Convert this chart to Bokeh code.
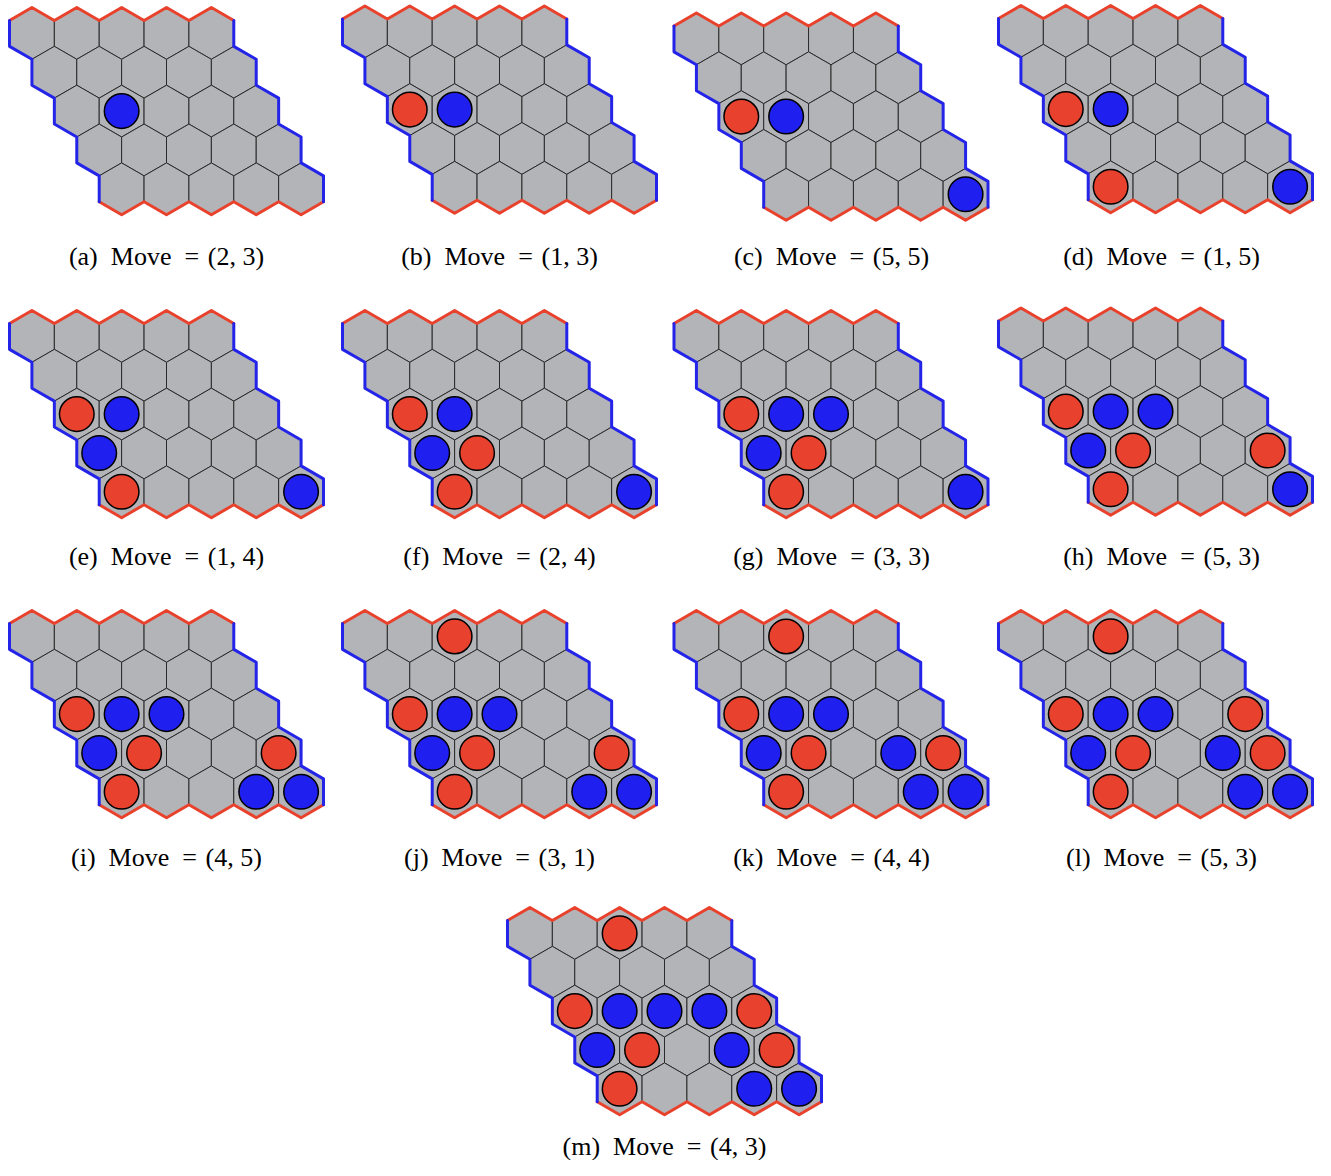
import math
from bokeh.plotting import figure
from bokeh.models import Range1d
from bokeh.core.properties import value
from bokeh.embed import file_html
from bokeh.resources import INLINE

# ---- data ----
BOARD_N = 5
move_cols = [2, 1, 5, 1, 1, 2, 3, 5, 4, 3, 4, 5, 4]
move_rows = [3, 3, 5, 5, 4, 4, 3, 4, 5, 1, 4, 3, 3]
move_players = ["blue", "red", "blue", "red", "blue", "red", "blue",
                "red", "blue", "red", "blue", "red", "blue"]
panel_letters = ["a", "b", "c", "d", "e", "f", "g", "h", "i", "j", "k", "l", "m"]
caption_moves = ["(2, 3)", "(1, 3)", "(5, 5)", "(1, 5)", "(1, 4)", "(2, 4)", "(3, 3)",
                 "(5, 3)", "(4, 5)", "(3, 1)", "(4, 4)", "(5, 3)", "(4, 3)"]

# ---- layout (pixels) ----
col_centers = [166.0, 499.0, 830.5, 1155.0]
cap_centers = [166.0, 499.0, 831.0, 1161.0]
board_tops = [7.0, 5.5, 12.5, 5.0, 310.0, 310.0, 310.0, 307.5,
              610.0, 610.0, 610.0, 610.0, 907.0]
board_cx = [col_centers[i % 4] for i in range(12)] + [664.0]
caption_cx = [cap_centers[i % 4] for i in range(12)] + [664.0]
caption_base = [256.0] * 4 + [556.0] * 4 + [857.0] * 4 + [1146.0]

R = 25.9
W = R * math.sqrt(3)
STONE_R = 17.3

GRAY = "#B3B4B8"
RED = "#E8412E"
BLUE = "#1F1FF0"
EDGE_RED = "#E8412C"
EDGE_BLUE = "#2424E8"

W_PX, H_PX = 1315, 1160
p = figure(width=W_PX, height=H_PX, output_backend="svg", toolbar_location=None,
           x_range=Range1d(0, W_PX), y_range=Range1d(H_PX, 0),
           min_border=0, outline_line_color=None)
p.axis.visible = False
p.xgrid.visible = False
p.ygrid.visible = False
p.background_fill_color = "white"


def hex_center(left, top, c, r):
    x = left + W / 2 + (c - 1) * W + (r - 1) * W / 2
    y = top + R + (r - 1) * 1.5 * R
    return x, y


def hex_vertices(x, y):
    # pointy-top, clockwise from top (screen coords, y down)
    return ([x, x + W / 2, x + W / 2, x, x - W / 2, x - W / 2],
            [y - R, y - R / 2, y + R / 2, y + R, y + R / 2, y - R / 2])


hx, hy = [], []
red_xs, red_ys, blue_xs, blue_ys = [], [], [], []
st_x, st_y, st_c = [], [], []
cap_x, cap_y, cap_t = [], [], []

for k in range(13):
    left = board_cx[k] - 3.5 * W
    top = board_tops[k]
    for r in range(1, BOARD_N + 1):
        for c in range(1, BOARD_N + 1):
            x, y = hex_center(left, top, c, r)
            vx, vy = hex_vertices(x, y)
            hx.append(vx)
            hy.append(vy)
    # top edge (red)
    ex, ey = [], []
    for c in range(1, BOARD_N + 1):
        x, y = hex_center(left, top, c, 1)
        vx, vy = hex_vertices(x, y)
        if c == 1:
            ex.append(vx[5]); ey.append(vy[5])
        ex += [vx[0], vx[1]]; ey += [vy[0], vy[1]]
    red_xs.append(ex); red_ys.append(ey)
    # bottom edge (red)
    ex, ey = [], []
    for c in range(1, BOARD_N + 1):
        x, y = hex_center(left, top, c, BOARD_N)
        vx, vy = hex_vertices(x, y)
        if c == 1:
            ex.append(vx[4]); ey.append(vy[4])
        ex += [vx[3], vx[2]]; ey += [vy[3], vy[2]]
    red_xs.append(ex); red_ys.append(ey)
    # left edge (blue)
    ex, ey = [], []
    for r in range(1, BOARD_N + 1):
        x, y = hex_center(left, top, 1, r)
        vx, vy = hex_vertices(x, y)
        ex += [vx[5], vx[4]]; ey += [vy[5], vy[4]]
    blue_xs.append(ex); blue_ys.append(ey)
    # right edge (blue)
    ex, ey = [], []
    for r in range(1, BOARD_N + 1):
        x, y = hex_center(left, top, BOARD_N, r)
        vx, vy = hex_vertices(x, y)
        if r > 1:
            ex.append(vx[0]); ey.append(vy[0])
        ex += [vx[1], vx[2]]; ey += [vy[1], vy[2]]
    blue_xs.append(ex); blue_ys.append(ey)
    # stones up to move k
    for m in range(k + 1):
        x, y = hex_center(left, top, move_cols[m], move_rows[m])
        st_x.append(x); st_y.append(y)
        st_c.append(RED if move_players[m] == "red" else BLUE)
    cap_x.append(caption_cx[k])
    cap_y.append(caption_base[k])
    cap_t.append("(" + panel_letters[k] + ")\u2002Move\u00a0\u00a0=\u2004" + caption_moves[k])

p.patches(hx, hy, fill_color=GRAY, line_color="#2a2a2a", line_width=1.0)
p.multi_line(red_xs, red_ys, line_color=EDGE_RED, line_width=3, line_join="round", line_cap="round")
p.multi_line(blue_xs, blue_ys, line_color=EDGE_BLUE, line_width=3, line_join="round", line_cap="round")
p.circle(x=st_x, y=st_y, radius=STONE_R, fill_color=st_c, line_color="black", line_width=1.5)
p.text(x=cap_x, y=cap_y, text=cap_t, text_align="center", text_baseline="alphabetic",
       text_font=value("Liberation Serif"), text_font_size="26px", text_color="black")

open("out.html", "w").write(file_html(p, INLINE))
